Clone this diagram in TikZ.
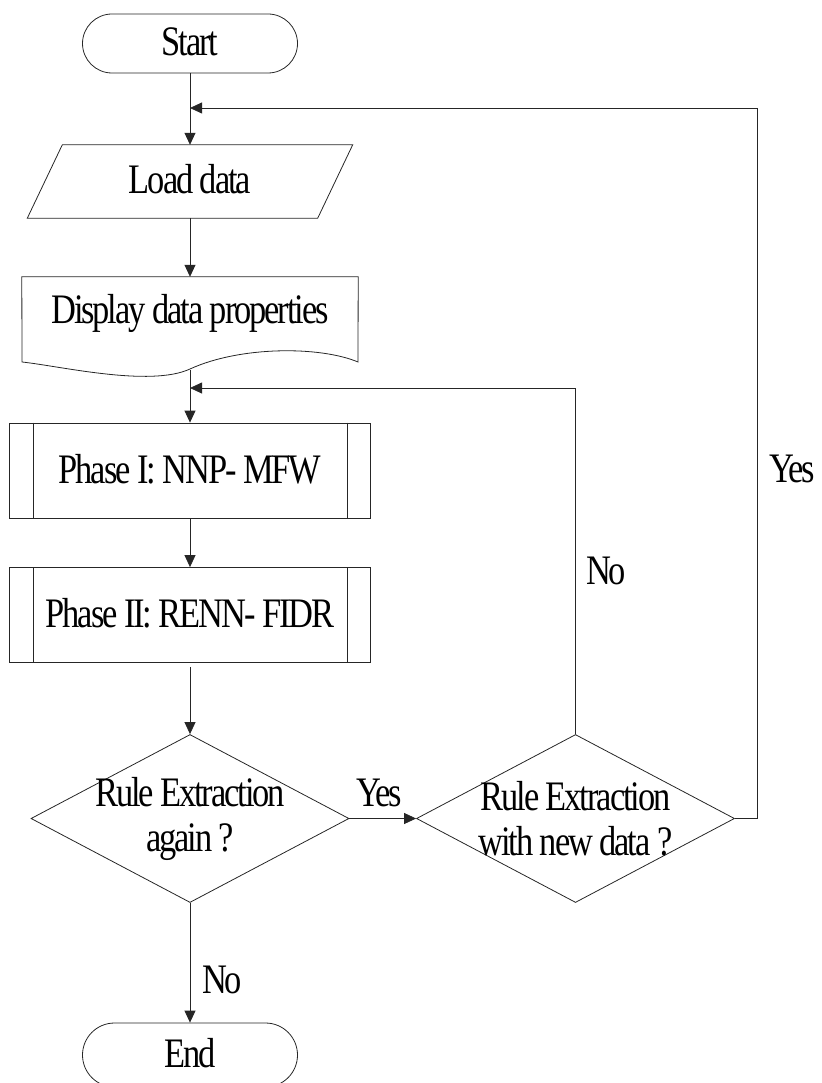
\documentclass[tikz,border=0pt]{standalone}
\usepackage{fontspec}
\setmainfont{Liberation Serif}[FakeStretch=0.82, LetterSpace=-5]
\usetikzlibrary{arrows.meta,shapes.misc,shapes.geometric}
\begin{document}
\begin{tikzpicture}[x=1pt,y=1pt,
  line/.style={draw=black!85, line width=0.8pt},
  arr/.style={line, -{Triangle[length=12pt,width=11pt]}},
  base/.style={font=\fontsize{42}{45}\selectfont, text height=28pt, text depth=3pt, inner sep=0pt, align=center},
  term/.style={base, rounded rectangle, line, minimum width=215pt},
  iobox/.style={base, minimum width=290pt, minimum height=73pt},
  docbox/.style={base, minimum width=336pt, minimum height=93pt, text depth=29pt},
  proc/.style={base, rectangle, line, minimum width=361pt, minimum height=95pt},
  dia/.style={diamond, line, minimum width=318pt, minimum height=168pt, inner sep=0pt},
  diatext/.style={font=\fontsize{42}{45}\selectfont, inner sep=0pt, align=center},
  lab/.style={base}
]
\useasboundingbox (0,0) rectangle (821,-1083);

% nodes
\node[term, minimum height=59pt] (start) at (190,-43.5) {Start};
\node[iobox] (load) at (190,-181.5) {Load data};
\node[docbox] (disp) at (190,-323.5) {Display data properties};
\node[proc] (p1) at (190,-470.5) {Phase I: NNP- MFW};
\node[proc] (p2) at (190,-615) {Phase II: RENN- FIDR};
\node[dia] (q1) at (190,-818.5) {};
\node[diatext] (q1t) at (q1.center) {Rule Extraction\\again ?};
\node[dia] (q2) at (575.5,-818.5) {};
\node[diatext] (q2t) at (q2.center) {Rule Extraction\\with new data ?};
\node[term, minimum height=64pt] (end) at (190,-1055) {End};

% shape outlines
\draw[line] ([xshift=17.5pt]load.north west) -- ([xshift=17.5pt]load.north east)
  -- ([xshift=-17.5pt]load.south east) -- ([xshift=-17.5pt]load.south west) -- cycle;
\draw[line] (disp.north west) -- (disp.north east) -- (358,-362)
  .. controls (320,-346) and (240,-346) .. (190,-369)
  .. controls (150,-387.4) and (60,-366) .. (22,-362) -- cycle;
\foreach \n in {p1,p2}{
  \draw[line] ([xshift=24pt]\n.north west) -- ([xshift=24pt]\n.south west);
  \draw[line] ([xshift=-24pt]\n.north east) -- ([xshift=-24pt]\n.south east);
}

% junction points
\coordinate (j1) at (190,-108);
\coordinate (j2) at (190,-388);
\coordinate (r1) at (757,-818.5);

% connectors
\draw[arr] (start.south) -- (load.north);
\draw[arr] (load.south) -- (disp.north);
\draw[arr] (disp.south) -- (p1.north);
\draw[arr] (p1.south) -- (p2.north);
\draw[arr, shorten <=4pt] (p2.south) -- (q1.north);
\draw[arr] (q1.east) -- (q2.west);
\draw[arr] (q1.south) -- (end.north);
\draw[arr] (q2.north) |- (j2);
\draw[arr] (q2.east) -- (r1) |- (j1);

% labels
\node[lab] (yes1) at (379,-794) {Yes};
\node[lab] (yes2) at (792,-469.5) {Yes};
\node[lab] (no1) at (606,-571.5) {No};
\node[lab] (no2) at (222,-980.5) {No};
\end{tikzpicture}
\end{document}
